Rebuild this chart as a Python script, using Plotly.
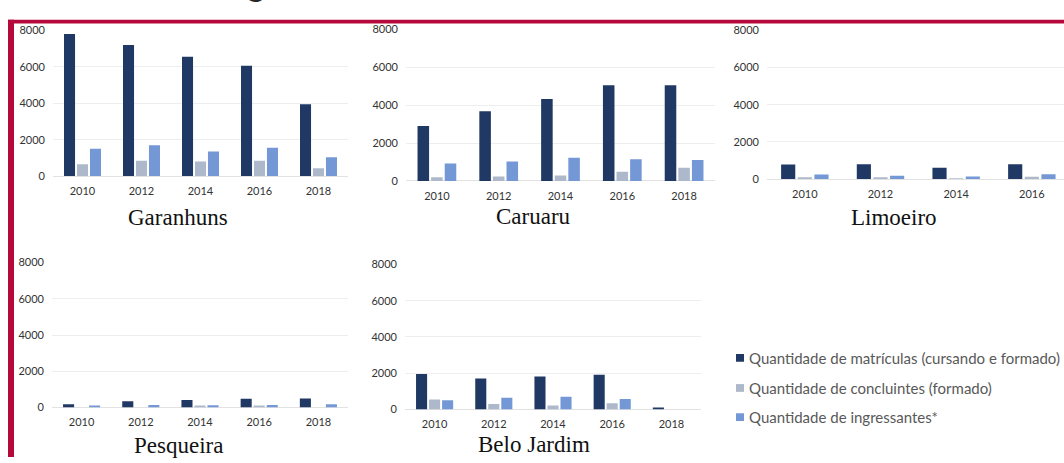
import plotly.graph_objects as go

W, H = 1064, 463

# ---------------- data ----------------
anos = ["2010", "2012", "2014", "2016", "2018"]
campi = ["Garanhuns", "Caruaru", "Limoeiro", "Pesqueira", "Belo Jardim"]
series_nomes = [
    "Quantidade de matrículas (cursando e formado)",
    "Quantidade de concluintes (formado)",
    "Quantidade de ingressantes*",
]
y_ticks = [0, 2000, 4000, 6000, 8000]

garanhuns_matriculas = [7800, 7200, 6550, 6050, 3950]
garanhuns_concluintes = [650, 850, 800, 850, 430]
garanhuns_ingressantes = [1500, 1700, 1350, 1550, 1030]

caruaru_matriculas = [2900, 3680, 4330, 5050, 5050]
caruaru_concluintes = [190, 240, 290, 480, 700]
caruaru_ingressantes = [920, 1030, 1230, 1150, 1110]

limoeiro_matriculas = [780, 800, 610, 800, 800]
limoeiro_concluintes = [70, 70, 35, 120, 100]
limoeiro_ingressantes = [250, 180, 140, 260, 250]

pesqueira_matriculas = [170, 340, 410, 480, 500]
pesqueira_concluintes = [0, 0, 70, 90, 0]
pesqueira_ingressantes = [90, 140, 120, 140, 180]

belojardim_matriculas = [1960, 1710, 1820, 1910, 90]
belojardim_concluintes = [540, 300, 210, 340, 0]
belojardim_ingressantes = [500, 640, 700, 570, 0]

dados = [
    (garanhuns_matriculas, garanhuns_concluintes, garanhuns_ingressantes),
    (caruaru_matriculas, caruaru_concluintes, caruaru_ingressantes),
    (limoeiro_matriculas, limoeiro_concluintes, limoeiro_ingressantes),
    (pesqueira_matriculas, pesqueira_concluintes, pesqueira_ingressantes),
    (belojardim_matriculas, belojardim_concluintes, belojardim_ingressantes),
]

# ---------------- styling / layout ----------------
cores = ["#203864", "#ADB9CA", "#7498D5"]
vermelho = "#B5093B"
grid = "#EEEEEE"
tick_font = dict(family="Lato", size=11, color="#333333")

# pixel boxes of each panel: (x0, x1, y_top, y_bottom, x_range_end)
paineis = [
    (53, 348, 24, 174, 4.5),
    (406, 715, 23, 179, 4.5),
    (767, 1064, 24, 177, 3.425),
    (52, 348, 263, 412, 4.5),
    (405, 701, 265, 414, 4.5),
]
titulos_pos = [(178, 217), (533, 216), (894, 217), (178, 451), (534, 450)]


def px(x):
    return x / W


def py(y):
    return 1 - y / H


fig = go.Figure()
layout = dict(
    width=W, height=H,
    margin=dict(l=0, r=0, t=0, b=0),
    paper_bgcolor="white", plot_bgcolor="white",
    barmode="group", bargap=0.34, bargroupgap=0.15,
    showlegend=False,
    font=dict(family="Lato", size=11, color="#404040"),
)

annotations = []
shapes = []

for i, (campus, valores, painel, tpos) in enumerate(zip(campi, dados, paineis, titulos_pos)):
    n = "" if i == 0 else str(i + 1)
    x0, x1, yt, yb, xend = painel
    for s, (nome, cor, vals) in enumerate(zip(series_nomes, cores, valores)):
        fig.add_trace(go.Bar(
            x=anos, y=vals, name=nome, marker_color=cor,
            marker_line_width=0,
            xaxis="x" + n, yaxis="y" + n,
            showlegend=False, hovertemplate="%{x}: %{y}<extra>" + nome + "</extra>",
        ))
    layout["xaxis" + n] = dict(
        domain=[px(x0), px(x1)], anchor="y" + n,
        type="category", range=[-0.5, xend],
        showgrid=False, showline=False, zeroline=False, ticks="",
        tickfont=tick_font, ticklabelstandoff=7, fixedrange=True,
    )
    layout["yaxis" + n] = dict(
        domain=[py(yb), py(yt)], anchor="x" + n,
        range=[0, 8000], tickvals=y_ticks, ticktext=[str(v) for v in y_ticks],
        showgrid=True, gridcolor=grid, gridwidth=1,
        zeroline=True, zerolinecolor="#E2E2E2", zerolinewidth=1,
        showline=False, ticks="", tickfont=tick_font, ticklabelstandoff=7,
        fixedrange=True,
    )
    annotations.append(dict(
        text=campus, x=px(tpos[0]), y=py(tpos[1]), xref="paper", yref="paper",
        xanchor="center", yanchor="middle", showarrow=False,
        font=dict(family="Liberation Serif", size=23, color="#111111"),
    ))

# manual legend
leg_y = [361, 392, 422]
for nome, cor, ly in zip(series_nomes, cores, leg_y):
    shapes.append(dict(
        type="rect", xref="paper", yref="paper",
        x0=px(736), x1=px(744), y0=py(ly + 4), y1=py(ly - 4),
        fillcolor=cor, line=dict(width=0),
    ))
    annotations.append(dict(
        text=nome, x=px(747), y=py(ly), xref="paper", yref="paper",
        xanchor="left", yanchor="middle", showarrow=False,
        font=dict(family="Lato", size=15, color="#595959"),
    ))

# slide frame (red border) and cropped title glyph
shapes.append(dict(type="rect", xref="paper", yref="paper",
                   x0=px(8), x1=1, y0=py(17), y1=py(13),
                   fillcolor=vermelho, line=dict(width=0), layer="above"))
shapes.append(dict(type="rect", xref="paper", yref="paper",
                   x0=px(8), x1=px(14), y0=0, y1=py(13),
                   fillcolor=vermelho, line=dict(width=0), layer="above"))
annotations.append(dict(
    text="g", x=px(256), y=py(-2), xref="paper", yref="paper",
    xanchor="center", yanchor="bottom", showarrow=False,
    font=dict(family="Lato", size=34, color="#262626"),
))

layout["annotations"] = annotations
layout["shapes"] = shapes
fig.update_layout(**layout)

fig.write_html("out.html")
